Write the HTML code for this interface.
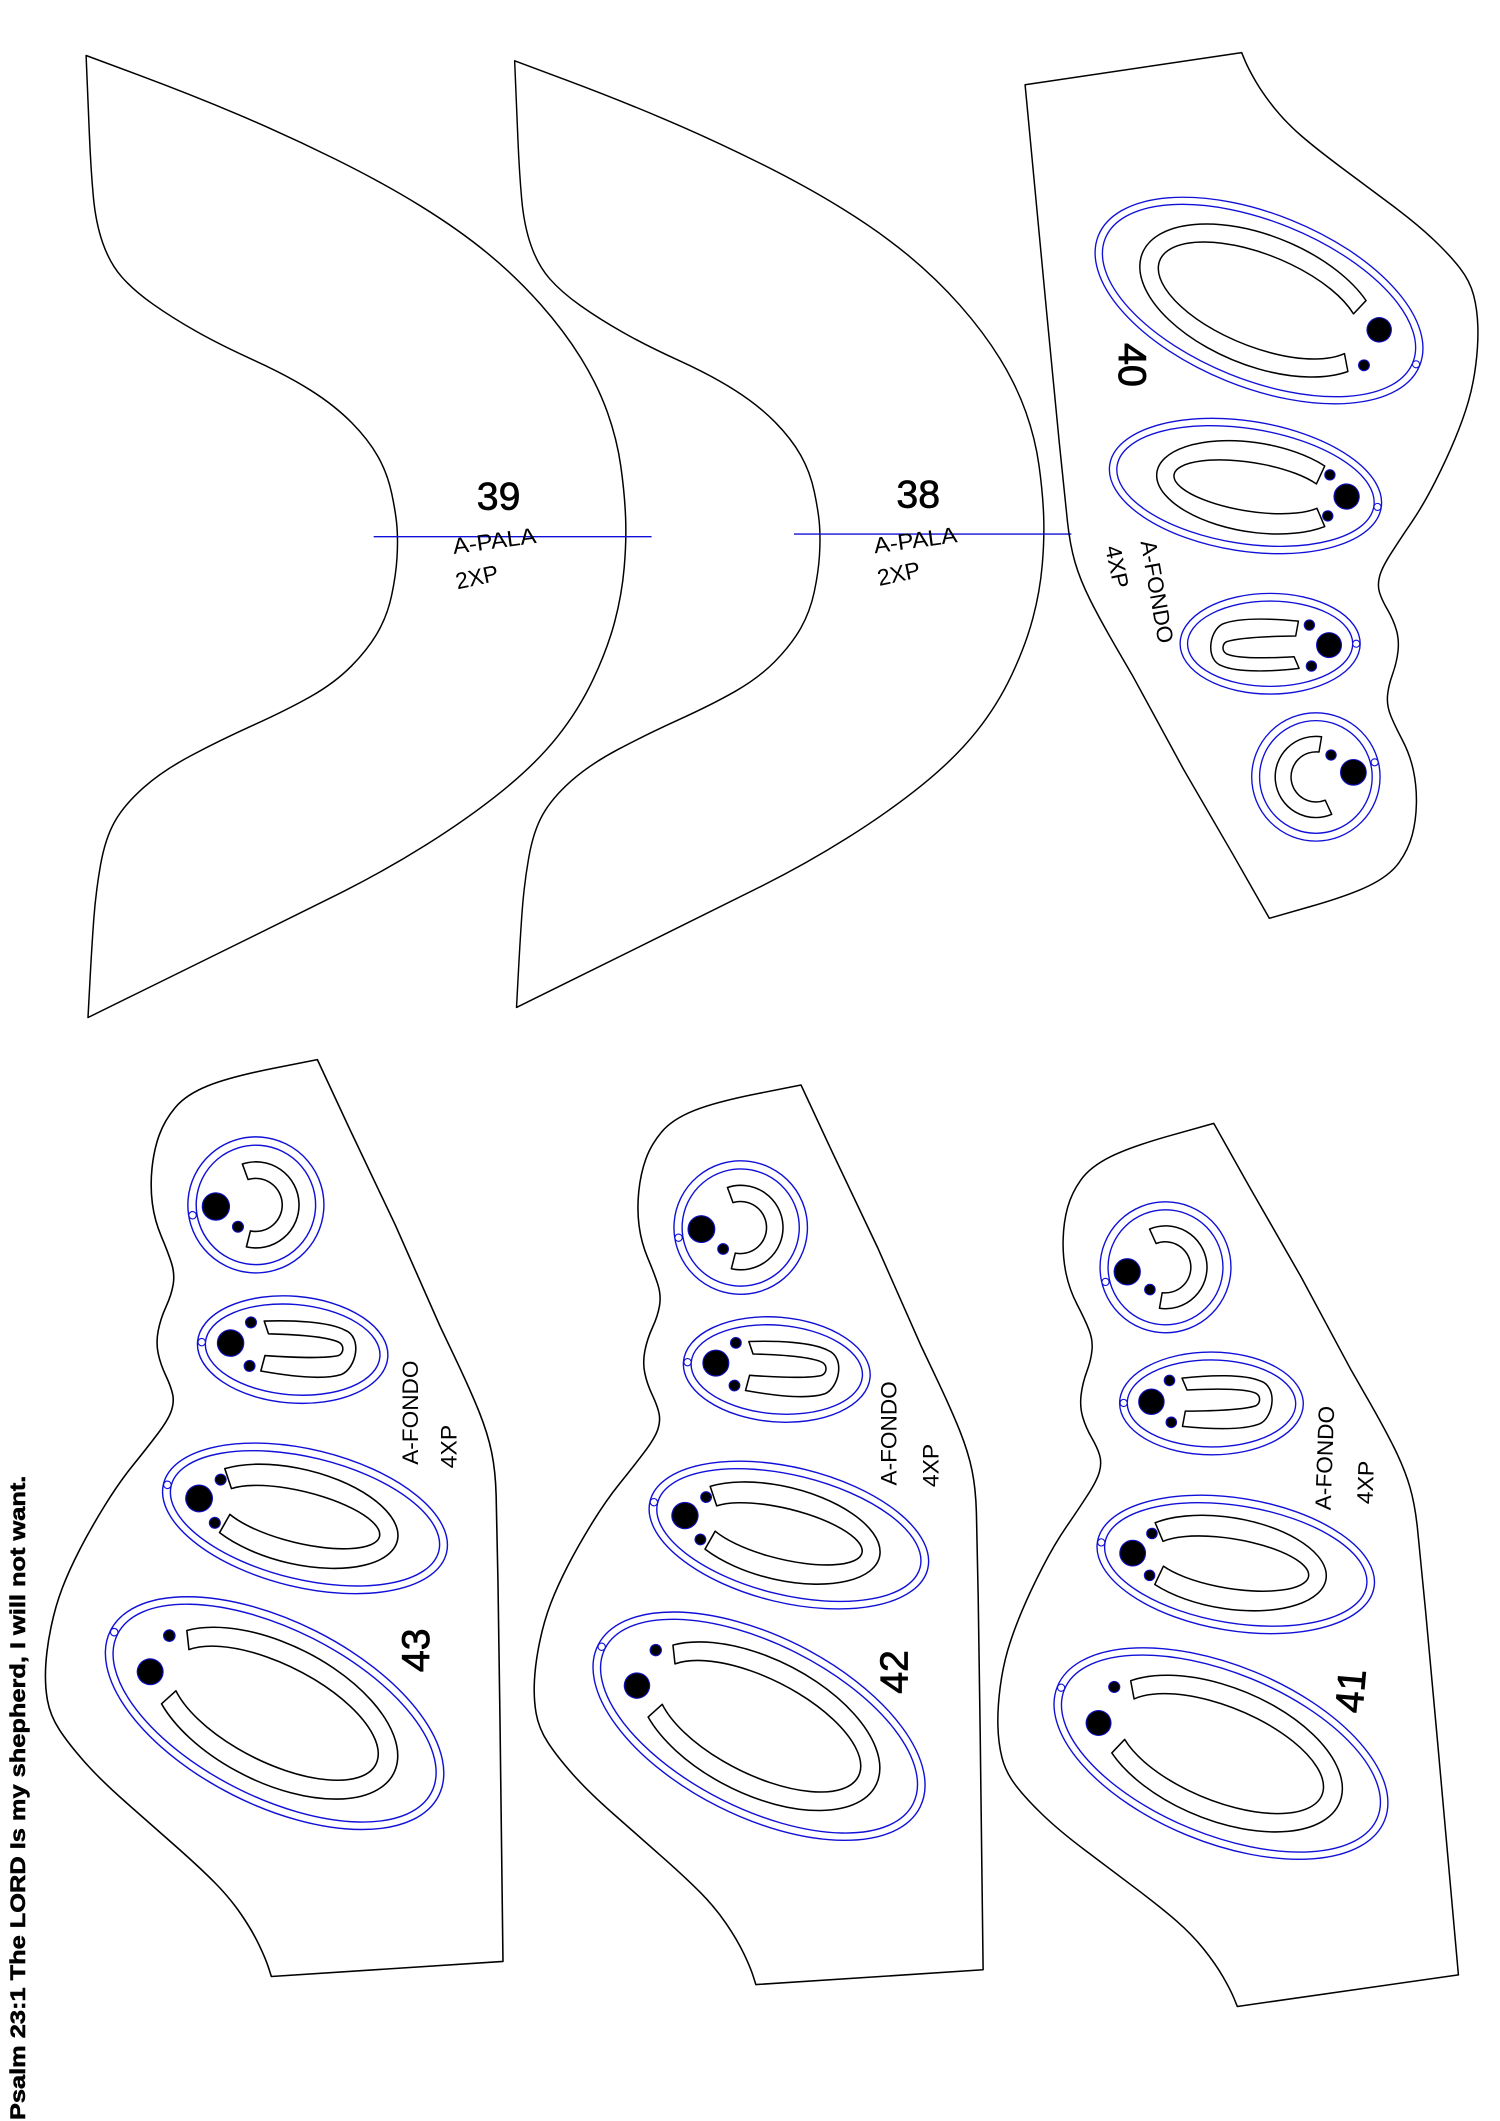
<!DOCTYPE html>
<html>
<head>
<meta charset="utf-8">
<style>
html,body{margin:0;padding:0;background:#fff;}
svg{display:block;}
</style>
</head>
<body>
<svg xmlns="http://www.w3.org/2000/svg" width="1500" height="2121" viewBox="0 0 1108 1566.7" preserveAspectRatio="none">
<rect x="0" y="0" width="1108" height="1566.7" fill="#fff"/>
<defs>
  <g id="wing">
    <path fill="none" stroke="#000" stroke-width="1.1" stroke-linejoin="round" d="M63.6,41 L102.45,55.45 Q141.3,69.9 176.65,84.9 Q212,99.9 247.3,117.35 Q282.6,134.8 310.9,152.3 Q339.2,169.8 360.4,187.3 Q381.6,204.8 399.25,224.75 Q416.9,244.7 429.25,264.7 Q441.6,284.7 448.7,304.65 Q455.8,324.6 458.6,344.6 Q461.4,364.6 462.1,382.05 Q462.8,399.5 461.05,419.5 Q459.3,439.5 454,459.45 Q448.7,479.4 438.1,501.9 Q427.5,524.4 411.6,544.35 Q395.7,564.3 370.95,584.3 Q346.2,604.3 314.4,624.25 Q282.6,644.2 247.3,661.7 Q212,679.2 176.65,696.65 Q141.3,714.1 103.15,732.85 L65,751.6 L66.4,725.4 Q67.8,699.2 69.25,679.2 Q70.7,659.2 74.2,639.25 Q77.7,619.3 84.8,606.8 Q91.9,594.3 106,581.8 Q120.1,569.3 141.3,558.05 Q162.5,546.8 187.25,535.6 Q212,524.4 229.65,514.4 Q247.3,504.4 259.65,491.9 Q272,479.4 279.1,466.95 Q286.2,454.5 289.35,439.5 Q292.5,424.5 293.25,412 Q294,399.5 293.25,389.5 Q292.5,379.5 289.35,364.55 Q286.2,349.6 279.1,337.1 Q272,324.6 259.65,312.1 Q247.3,299.6 229.65,288.4 Q212,277.2 187.25,265.95 Q162.5,254.7 144.85,244.7 Q127.2,234.7 113.05,224.7 Q98.9,214.7 90.1,204.75 Q81.3,194.8 76,179.8 Q70.7,164.8 68.9,144.85 Q67.1,124.9 66.05,99.9 Q65,74.9 64.3,57.95 L63.6,41 Z"/>
  </g>
  <g id="piece" fill="none" stroke="#000" stroke-width="1.1" stroke-linejoin="round">
    <path d="M757.2,62.6 L917.2,38.9 L919.65,44.85 Q922.1,50.8 927.65,60.3 Q933.2,69.8 941.8,80.4 Q950.4,91 961.5,100.55 Q972.6,110.1 991.05,123.9 Q1009.5,137.7 1028,151.45 Q1046.5,165.2 1058.8,176.9 Q1071.1,188.6 1078.45,198.1 Q1085.8,207.6 1088.55,218.2 Q1091.3,228.8 1091.65,241.55 Q1092,254.3 1090.15,269.15 Q1088.3,284 1084.6,296.7 Q1080.9,309.4 1074.75,324.25 Q1068.6,339.1 1060,356.05 Q1051.4,373 1042.75,385.7 Q1034.1,398.4 1027.35,409 Q1020.6,419.6 1019,425.95 Q1017.4,432.3 1019,437.6 Q1020.6,442.9 1024.9,450.35 Q1029.2,457.8 1031.4,465.2 Q1033.6,472.6 1032.65,481.1 Q1031.7,489.6 1028.6,498.1 Q1025.5,506.6 1024.9,514 Q1024.3,521.4 1027.35,528.8 Q1030.4,536.2 1035.95,546.8 Q1041.5,557.4 1044,569.05 Q1046.5,580.7 1046.25,593.45 Q1046,606.2 1043.15,616.8 Q1040.3,627.4 1033.55,636.95 Q1026.8,646.5 1012,653.9 Q997.2,661.3 967.4,669.8 L937.6,678.3 L911,631.6 L874.1,568 L837.2,500.2 L824.9,479 Q812.6,457.8 805.2,443 Q797.8,428.1 794.1,415.4 Q790.4,402.7 788.55,385.75 Q786.7,368.8 782.4,326.4 Q778.1,284 773.15,231 L757.2,62.6 Z"/>
    <!-- lobe 1 (large) -->
    <g transform="translate(930,222) rotate(22)">
      <ellipse cx="0" cy="0" rx="128" ry="64" stroke="#1010d8" stroke-width="1"/>
      <ellipse cx="0" cy="0" rx="122.5" ry="58.5" stroke="#1010d8" stroke-width="1"/>
      <circle cx="125.2" cy="0.2" r="2.6" fill="#fff" stroke="#1010d8" stroke-width="0.8"/>
      <path d="M73.3,-29.6 A93,48 0 1 0 80.5,24 L73.2,12.7 A79,34 0 1 1 68.4,-17 Z"/>
      <circle cx="90.4" cy="-13.2" r="9" fill="#000" stroke="#1010c0" stroke-width="0.8"/>
      <circle cx="89.8" cy="15.3" r="4" fill="#000" stroke="#1010c0" stroke-width="0.8"/>
    </g>
    <!-- lobe 2 (medium) -->
    <g transform="translate(920,359) rotate(9)">
      <ellipse cx="0" cy="0" rx="101.5" ry="48" stroke="#1010d8" stroke-width="1"/>
      <ellipse cx="0" cy="0" rx="96" ry="42.5" stroke="#1010d8" stroke-width="1"/>
      <circle cx="98.7" cy="0" r="2.6" fill="#fff" stroke="#1010d8" stroke-width="0.8"/>
      <path d="M55.5,-23.8 A72,33 0 1 0 62.5,20.4 L54.7,8 A57,18 0 1 1 51.5,-9.7 Z"/>
      <circle cx="75" cy="-4" r="9.3" fill="#000" stroke="#1010c0" stroke-width="0.8"/>
      <circle cx="60.3" cy="-17.9" r="3.8" fill="#000" stroke="#1010c0" stroke-width="0.8"/>
      <circle cx="63.5" cy="12.3" r="3.8" fill="#000" stroke="#1010c0" stroke-width="0.8"/>
    </g>
    <!-- lobe 3 (U) -->
    <ellipse cx="938.2" cy="475.5" rx="66.5" ry="37.2" stroke="#1010d8" stroke-width="1"/>
    <ellipse cx="938.2" cy="475.5" rx="61" ry="31.5" stroke="#1010d8" stroke-width="1"/>
    <circle cx="1001.8" cy="475.5" r="2.6" fill="#fff" stroke="#1010d8" stroke-width="0.8"/>
    <path d="M959.1,458.8 C940,457 915,456 903,461 C893,466 890,488 903,492 C915,497 940,496 959.6,493.7 L955.9,485.1 C940,486 915,487 906,483 C902.5,481 902.5,476 906,474 C915,471 940,470 957.1,469.8 Z"/>
    <circle cx="967.2" cy="461.7" r="3.8" fill="#000" stroke="#1010c0" stroke-width="0.8"/>
    <circle cx="981.7" cy="476.5" r="9.2" fill="#000" stroke="#1010c0" stroke-width="0.8"/>
    <circle cx="968.7" cy="492" r="3.8" fill="#000" stroke="#1010c0" stroke-width="0.8"/>
    <!-- lobe 4 (circle) -->
    <circle cx="972" cy="573.9" r="47.4" stroke="#1010d8" stroke-width="1"/>
    <circle cx="972" cy="573.9" r="41.6" stroke="#1010d8" stroke-width="1"/>
    <circle cx="1015.4" cy="563.1" r="2.6" fill="#fff" stroke="#1010d8" stroke-width="0.8"/>
    <path d="M976.2,544.2 A30,30 0 1 0 983.7,601.5 L978.9,591.1 A18.5,18.5 0 1 1 974.3,555.5 Z"/>
    <circle cx="983.2" cy="557.7" r="3.8" fill="#000" stroke="#1010c0" stroke-width="0.8"/>
    <circle cx="999.7" cy="570.5" r="9.5" fill="#000" stroke="#1010c0" stroke-width="0.8"/>
  </g>
</defs>

<!-- pieces 39 and 38 -->
<use href="#wing"/>
<use href="#wing" transform="translate(317.8,4.56) scale(0.9805,0.984)"/>
<line x1="276" y1="396.4" x2="481.3" y2="396.4" stroke="#1010d8" stroke-width="1"/>
<line x1="586.5" y1="394.5" x2="791.4" y2="394.5" stroke="#1010d8" stroke-width="1"/>

<g font-family="'Liberation Sans', Arial, sans-serif" fill="#000">
  <text x="368.3" y="376.2" font-size="29" text-anchor="middle" stroke="#000" stroke-width="0.5">39</text>
  <text transform="translate(365.9,405.1) rotate(-7.7)" font-size="16.5" text-anchor="middle" textLength="62" lengthAdjust="spacingAndGlyphs">A-PALA</text>
  <text transform="translate(353.5,432) rotate(-12)" font-size="17" text-anchor="middle" textLength="32" lengthAdjust="spacingAndGlyphs">2XP</text>

  <text x="678.3" y="374.8" font-size="29" text-anchor="middle" stroke="#000" stroke-width="0.5">38</text>
  <text transform="translate(676.9,404.6) rotate(-7.7)" font-size="16.5" text-anchor="middle" textLength="62" lengthAdjust="spacingAndGlyphs">A-PALA</text>
  <text transform="translate(665.1,429.5) rotate(-12)" font-size="17" text-anchor="middle" textLength="32" lengthAdjust="spacingAndGlyphs">2XP</text>
</g>

<!-- piece 40 -->
<use href="#piece"/>
<!-- piece 43 -->
<use href="#piece" transform="translate(268.8,1230.5) rotate(184.7) scale(1.06) translate(-870.67,-259.93)"/>
<!-- piece 42 -->
<use href="#piece" transform="translate(625.4,1240.8) rotate(184.7) scale(1.04) translate(-870.67,-259.93)"/>
<!-- piece 41 -->
<use href="#piece" transform="translate(962.6,1256.9) rotate(180.3) scale(1.02) translate(-870.67,-259.93)"/>

<g font-family="'Liberation Sans', Arial, sans-serif" fill="#000" text-anchor="middle">
  <!-- 40 -->
  <text transform="translate(837.1,269.6) rotate(90)" y="10.4" font-size="29" stroke="#000" stroke-width="0.7">40</text>
  <text transform="translate(855,437) rotate(80)" y="6" font-size="16.5" textLength="77" lengthAdjust="spacingAndGlyphs">A-FONDO</text>
  <text transform="translate(825.5,418.6) rotate(78)" y="6" font-size="16.5" textLength="32" lengthAdjust="spacingAndGlyphs">4XP</text>
  <!-- 43 -->
  <text transform="translate(306.5,1219) rotate(-90)" y="10.4" font-size="29" stroke="#000" stroke-width="0.6">43</text>
  <text transform="translate(302.8,1043.5) rotate(-90)" y="6" font-size="16.5" textLength="77" lengthAdjust="spacingAndGlyphs">A-FONDO</text>
  <text transform="translate(331.1,1068.5) rotate(-90)" y="6" font-size="16.5" textLength="32" lengthAdjust="spacingAndGlyphs">4XP</text>
  <!-- 42 -->
  <text transform="translate(659.8,1235) rotate(-90)" y="10.4" font-size="29" stroke="#000" stroke-width="0.6">42</text>
  <text transform="translate(656.1,1058.8) rotate(-90)" y="6" font-size="16.5" textLength="77" lengthAdjust="spacingAndGlyphs">A-FONDO</text>
  <text transform="translate(687.4,1082.5) rotate(-90)" y="6" font-size="16.5" textLength="32" lengthAdjust="spacingAndGlyphs">4XP</text>
  <!-- 41 -->
  <text transform="translate(997.2,1249) rotate(-85)" y="10.4" font-size="29" stroke="#000" stroke-width="0.6">41</text>
  <text transform="translate(978.2,1077) rotate(-88)" y="6" font-size="16.5" textLength="77" lengthAdjust="spacingAndGlyphs">A-FONDO</text>
  <text transform="translate(1008.3,1095) rotate(-88)" y="6" font-size="16.5" textLength="32" lengthAdjust="spacingAndGlyphs">4XP</text>
</g>

<text transform="translate(18.5,1566) rotate(-90)" font-family="'Liberation Sans', Arial, sans-serif" font-weight="bold" font-size="16" fill="#000" stroke="#000" stroke-width="0.4" textLength="476" lengthAdjust="spacingAndGlyphs">Psalm 23:1 The LORD Is my shepherd, I will not want.</text>
</svg>
</body>
</html>
